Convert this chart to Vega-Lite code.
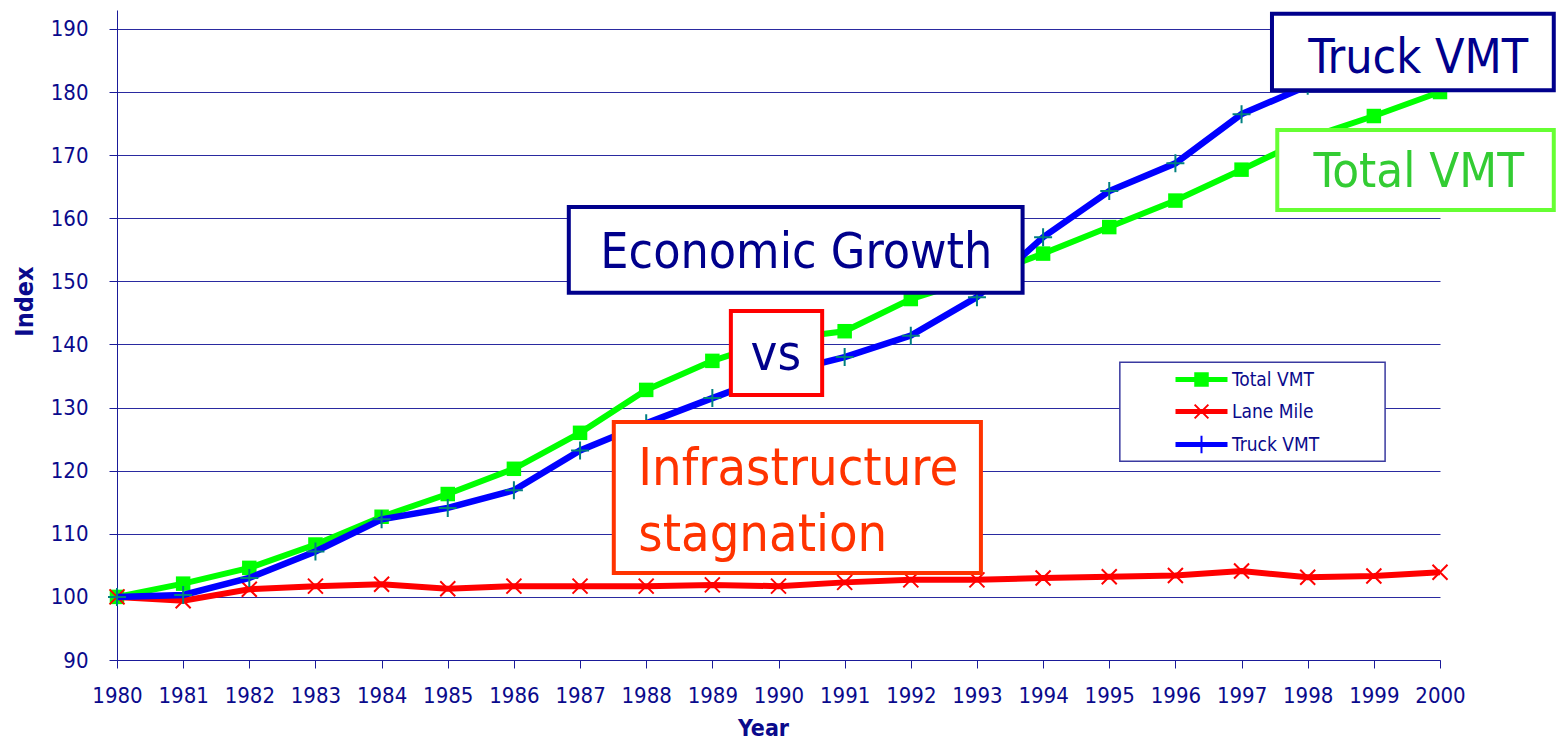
{
  "$schema": "https://vega.github.io/schema/vega-lite/v6.json",
  "width": 1323,
  "height": 650,
  "autosize": {"type": "none"},
  "padding": {"left": 117, "top": 10, "right": 116, "bottom": 79},
  "background": "white",
  "config": {
    "font": "DejaVu Sans Condensed",
    "view": {"stroke": null},
    "axis": {
      "domainColor": "#1a1a99",
      "tickColor": "#1a1a99",
      "labelColor": "#0a0a8c",
      "titleColor": "#0a0a8c",
      "labelFont": "DejaVu Sans Condensed",
      "titleFont": "DejaVu Sans Condensed",
      "labelFontSize": 22,
      "titleFontWeight": "bold",
      "tickSize": 8
    }
  },
  "datasets": {
    "series": [
      {"year": 1980, "series": "Total VMT", "value": 100},
      {"year": 1981, "series": "Total VMT", "value": 102.1},
      {"year": 1982, "series": "Total VMT", "value": 104.6},
      {"year": 1983, "series": "Total VMT", "value": 108.3},
      {"year": 1984, "series": "Total VMT", "value": 112.7},
      {"year": 1985, "series": "Total VMT", "value": 116.3},
      {"year": 1986, "series": "Total VMT", "value": 120.3},
      {"year": 1987, "series": "Total VMT", "value": 126.0},
      {"year": 1988, "series": "Total VMT", "value": 132.8},
      {"year": 1989, "series": "Total VMT", "value": 137.4},
      {"year": 1990, "series": "Total VMT", "value": 140.8},
      {"year": 1991, "series": "Total VMT", "value": 142.1},
      {"year": 1992, "series": "Total VMT", "value": 147.2},
      {"year": 1993, "series": "Total VMT", "value": 150.5},
      {"year": 1994, "series": "Total VMT", "value": 154.4},
      {"year": 1995, "series": "Total VMT", "value": 158.6},
      {"year": 1996, "series": "Total VMT", "value": 162.8},
      {"year": 1997, "series": "Total VMT", "value": 167.7},
      {"year": 1998, "series": "Total VMT", "value": 172.7},
      {"year": 1999, "series": "Total VMT", "value": 176.2},
      {"year": 2000, "series": "Total VMT", "value": 180.0},
      {"year": 1980, "series": "Lane Mile", "value": 100},
      {"year": 1981, "series": "Lane Mile", "value": 99.4},
      {"year": 1982, "series": "Lane Mile", "value": 101.2},
      {"year": 1983, "series": "Lane Mile", "value": 101.7},
      {"year": 1984, "series": "Lane Mile", "value": 102.0},
      {"year": 1985, "series": "Lane Mile", "value": 101.3},
      {"year": 1986, "series": "Lane Mile", "value": 101.7},
      {"year": 1987, "series": "Lane Mile", "value": 101.7},
      {"year": 1988, "series": "Lane Mile", "value": 101.7},
      {"year": 1989, "series": "Lane Mile", "value": 101.9},
      {"year": 1990, "series": "Lane Mile", "value": 101.7},
      {"year": 1991, "series": "Lane Mile", "value": 102.3},
      {"year": 1992, "series": "Lane Mile", "value": 102.7},
      {"year": 1993, "series": "Lane Mile", "value": 102.7},
      {"year": 1994, "series": "Lane Mile", "value": 103.0},
      {"year": 1995, "series": "Lane Mile", "value": 103.2},
      {"year": 1996, "series": "Lane Mile", "value": 103.4},
      {"year": 1997, "series": "Lane Mile", "value": 104.1},
      {"year": 1998, "series": "Lane Mile", "value": 103.1},
      {"year": 1999, "series": "Lane Mile", "value": 103.3},
      {"year": 2000, "series": "Lane Mile", "value": 103.9},
      {"year": 1980, "series": "Truck VMT", "value": 100},
      {"year": 1981, "series": "Truck VMT", "value": 100.3},
      {"year": 1982, "series": "Truck VMT", "value": 103.0},
      {"year": 1983, "series": "Truck VMT", "value": 107.2},
      {"year": 1984, "series": "Truck VMT", "value": 112.3},
      {"year": 1985, "series": "Truck VMT", "value": 114.1},
      {"year": 1986, "series": "Truck VMT", "value": 116.9},
      {"year": 1987, "series": "Truck VMT", "value": 123.2},
      {"year": 1988, "series": "Truck VMT", "value": 127.5},
      {"year": 1989, "series": "Truck VMT", "value": 131.5},
      {"year": 1990, "series": "Truck VMT", "value": 135.4},
      {"year": 1991, "series": "Truck VMT", "value": 138.0},
      {"year": 1992, "series": "Truck VMT", "value": 141.4},
      {"year": 1993, "series": "Truck VMT", "value": 147.5},
      {"year": 1994, "series": "Truck VMT", "value": 157.0},
      {"year": 1995, "series": "Truck VMT", "value": 164.3},
      {"year": 1996, "series": "Truck VMT", "value": 168.7},
      {"year": 1997, "series": "Truck VMT", "value": 176.5},
      {"year": 1998, "series": "Truck VMT", "value": 181.0},
      {"year": 1999, "series": "Truck VMT", "value": 184.0},
      {"year": 2000, "series": "Truck VMT", "value": 187.0}
    ],
    "boxes": [
      {"box": "Truck VMT", "x1": 1997.46, "x2": 2001.72, "y1": 192.4, "y2": 180.3},
      {"box": "Total VMT", "x1": 1997.54, "x2": 2001.72, "y1": 174.0, "y2": 161.3},
      {"box": "Economic Growth", "x1": 1986.83, "x2": 1993.69, "y1": 161.8, "y2": 148.2},
      {"box": "vs", "x1": 1989.28, "x2": 1990.66, "y1": 145.3, "y2": 132.0},
      {"box": "Infrastructure", "x1": 1987.51, "x2": 1993.06, "y1": 127.7, "y2": 103.8},
      {"box": "Legend", "x1": 1995.16, "x2": 1999.17, "y1": 137.2, "y2": 121.5}
    ],
    "labels": [
      {"label": "Truck VMT", "x": 1999.67, "y": 185.3},
      {"label": "Total VMT", "x": 1999.68, "y": 167.3},
      {"label": "Economic Growth", "x": 1990.27, "y": 154.5},
      {"label": "vs", "x": 1989.96, "y": 138.3},
      {"label": "Infrastructure", "x": 1987.88, "y": 120.3},
      {"label": "stagnation", "x": 1987.88, "y": 109.8}
    ]
  },
  "layer": [
    {
      "data": {"name": "series"},
      "transform": [{"filter": "datum.series === 'Total VMT'"}],
      "mark": {"type": "line", "strokeWidth": 6},
      "encoding": {
        "x": {
          "field": "year", "type": "quantitative", "title": "Year",
          "scale": {"domain": [1980, 2000], "nice": false, "zero": false},
          "axis": {
            "title": "Year", "titleFontSize": 23, "titleX": 646, "titlePadding": 11,
            "values": [1980, 1981, 1982, 1983, 1984, 1985, 1986, 1987, 1988, 1989, 1990, 1991, 1992, 1993, 1994, 1995, 1996, 1997, 1998, 1999, 2000],
            "format": "d", "labelPadding": 17, "grid": false, "labelFlush": false, "labelOverlap": false
          }
        },
        "y": {
          "field": "value", "type": "quantitative", "title": "Index",
          "scale": {"domain": [90, 193], "nice": false, "zero": false},
          "axis": {
            "title": "Index", "titleFontSize": 25, "titleX": -93, "titleY": 291, "titleAngle": -90,
            "titleAlign": "center", "titleBaseline": "middle",
            "values": [90, 100, 110, 120, 130, 140, 150, 160, 170, 180, 190],
            "labelPadding": 21, "grid": true, "gridColor": "#2a2aa0", "gridWidth": 1, "labelFlush": false
          }
        },
        "color": {
          "field": "series", "type": "nominal",
          "scale": {"domain": ["Total VMT", "Lane Mile", "Truck VMT"], "range": ["#00ff00", "#ff0000", "#0000ff"]},
          "legend": {
            "orient": "none", "legendX": 1071, "legendY": 356, "title": null, "direction": "vertical",
            "padding": 0, "symbolSize": 625, "symbolType": "M-2,0L2,0",
            "labelFont": "DejaVu Sans Condensed", "labelFontSize": 19, "labelColor": "#0a0a8c",
            "labelOffset": 17, "rowPadding": 8,
            "encode": {
              "symbols": {
                "update": {
                  "shape": {"signal": "datum.value === 'Total VMT' ? 'M-2,-0.12L2,-0.12L2,0.12L-2,0.12Z M-0.5,-0.5L0.5,-0.5L0.5,0.5L-0.5,0.5Z' : datum.value === 'Lane Mile' ? 'M-2,-0.12L2,-0.12L2,0.12L-2,0.12Z M-0.55,-0.55L0.55,0.55M-0.55,0.55L0.55,-0.55' : 'M-2,-0.12L2,-0.12L2,0.12L-2,0.12Z M-0.7,0L0.7,0M0,-0.7L0,0.7'"},
                  "fill": {"scale": "color", "field": "value"},
                  "stroke": {"scale": "color", "field": "value"},
                  "strokeWidth": {"value": 2},
                  "opacity": {"value": 1},
                  "fillOpacity": {"value": 1},
                  "strokeOpacity": {"value": 1}
                }
              }
            }
          }
        }
      }
    },
    {
      "data": {"name": "series"},
      "transform": [{"filter": "datum.series === 'Total VMT'"}],
      "mark": {"type": "point", "shape": "square", "filled": true, "size": 210, "color": "#00ff00", "opacity": 1},
      "encoding": {
        "x": {"field": "year", "type": "quantitative", "title": "Year"},
        "y": {"field": "value", "type": "quantitative", "title": "Index"}
      }
    },
    {
      "data": {"name": "series"},
      "transform": [{"filter": "datum.series === 'Lane Mile'"}],
      "mark": {"type": "line", "strokeWidth": 6},
      "encoding": {
        "x": {"field": "year", "type": "quantitative", "title": "Year"},
        "y": {"field": "value", "type": "quantitative", "title": "Index"},
        "color": {"field": "series", "type": "nominal"}
      }
    },
    {
      "data": {"name": "series"},
      "transform": [{"filter": "datum.series === 'Lane Mile'"}],
      "mark": {"type": "point", "shape": "M-1,-1L1,1M-1,1L1,-1", "filled": false, "size": 225, "stroke": "#ff0000", "strokeWidth": 2, "opacity": 1},
      "encoding": {
        "x": {"field": "year", "type": "quantitative", "title": "Year"},
        "y": {"field": "value", "type": "quantitative", "title": "Index"}
      }
    },
    {
      "data": {"name": "series"},
      "transform": [{"filter": "datum.series === 'Truck VMT'"}],
      "mark": {"type": "line", "strokeWidth": 6.5},
      "encoding": {
        "x": {"field": "year", "type": "quantitative", "title": "Year"},
        "y": {"field": "value", "type": "quantitative", "title": "Index"},
        "color": {"field": "series", "type": "nominal"}
      }
    },
    {
      "data": {"name": "series"},
      "transform": [{"filter": "datum.series === 'Truck VMT'"}],
      "mark": {"type": "point", "shape": "M-1,0L1,0M0,-1L0,1", "filled": false, "size": 324, "stroke": "#008080", "strokeWidth": 2, "opacity": 1},
      "encoding": {
        "x": {"field": "year", "type": "quantitative", "title": "Year"},
        "y": {"field": "value", "type": "quantitative", "title": "Index"}
      }
    },
    {
      "data": {"name": "boxes"},
      "transform": [{"filter": "datum.box !== 'Legend'"}],
      "mark": {"type": "rect", "fill": "white", "strokeWidth": 4},
      "encoding": {
        "x": {"field": "x1", "type": "quantitative", "title": "Year"},
        "x2": {"field": "x2"},
        "y": {"field": "y1", "type": "quantitative", "title": "Index"},
        "y2": {"field": "y2"},
        "stroke": {
          "field": "box", "type": "nominal", "legend": null,
          "scale": {"domain": ["Truck VMT", "Total VMT", "Economic Growth", "vs", "Infrastructure"], "range": ["#00008c", "#66ff33", "#00008c", "#ff0000", "#ff3300"]}
        }
      }
    },
    {
      "data": {"name": "boxes"},
      "transform": [{"filter": "datum.box === 'Legend'"}],
      "mark": {"type": "rect", "fill": "white", "stroke": "#3a3aa0", "strokeWidth": 1.5},
      "encoding": {
        "x": {"field": "x1", "type": "quantitative", "title": "Year"},
        "x2": {"field": "x2"},
        "y": {"field": "y1", "type": "quantitative", "title": "Index"},
        "y2": {"field": "y2"}
      }
    },
    {
      "data": {"name": "labels"},
      "transform": [{"filter": "datum.label !== 'Infrastructure' && datum.label !== 'stagnation'"}],
      "mark": {"type": "text", "align": "center", "baseline": "middle", "font": "DejaVu Sans Condensed"},
      "encoding": {
        "x": {"field": "x", "type": "quantitative", "title": "Year"},
        "y": {"field": "y", "type": "quantitative", "title": "Index"},
        "text": {"field": "label"},
        "fill": {
          "field": "label", "type": "nominal", "legend": null,
          "scale": {"domain": ["Truck VMT", "Total VMT", "Economic Growth", "vs"], "range": ["#00008c", "#33cc33", "#00008c", "#00008c"]}
        },
        "size": {
          "field": "label", "type": "nominal", "legend": null,
          "scale": {"domain": ["Truck VMT", "Total VMT", "Economic Growth", "vs"], "range": [48, 50.5, 57, 54]}
        }
      }
    },
    {
      "data": {"name": "labels"},
      "transform": [{"filter": "datum.label === 'Infrastructure' || datum.label === 'stagnation'"}],
      "mark": {"type": "text", "align": "left", "baseline": "middle", "font": "DejaVu Sans Condensed", "fontSize": 52, "color": "#ff3300"},
      "encoding": {
        "x": {"field": "x", "type": "quantitative", "title": "Year"},
        "y": {"field": "y", "type": "quantitative", "title": "Index"},
        "text": {"field": "label"}
      }
    }
  ]
}
